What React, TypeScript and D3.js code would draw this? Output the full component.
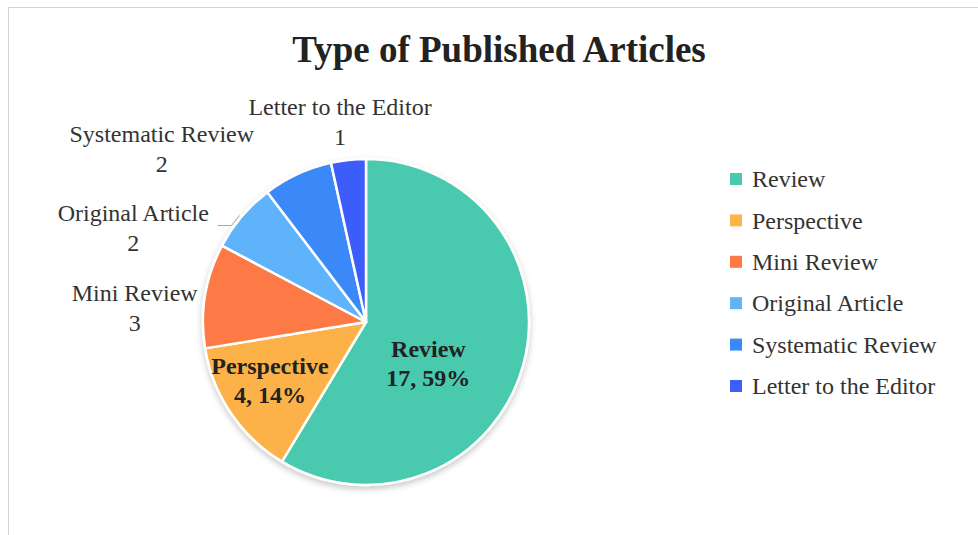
import React, { useRef, useEffect } from 'react';
import * as d3 from 'd3';

// article types and counts
const categories = ['Review', 'Perspective', 'Mini Review', 'Original Article', 'Systematic Review', 'Letter to the Editor'];
const counts = [17, 4, 3, 2, 2, 1];
const colors = ['#49c9ae', '#fdb24a', '#fd7a46', '#5fb3fb', '#3b89f9', '#3e5dfb'];

const W = 978;
const H = 535;
const FONT = '"Liberation Serif", "Times New Roman", serif';

// label nudges relative to centroid (Excel moves them around a bit)
const inside = { 0: [-46, 11], 1: [-3, -5] };
const outside = { 2: [-31, 19], 3: [-78, 37], 4: [-119, 11], 5: [-4, 2] };

const App = () => {
  const svgRef = useRef<SVGSVGElement>(null);

  useEffect(() => {
    if (!svgRef.current) return;
    const svg = d3.select(svgRef.current);
    svg.selectAll('*').remove();

    const cx = 366, cy = 322, R = 163;
    const total = d3.sum(counts);
    const rows = categories.map((name, i) => ({ name, value: counts[i], color: colors[i], i }));

    // frame
    svg.append('rect')
      .attr('x', 8.5).attr('y', 7.5)
      .attr('width', W).attr('height', H)
      .attr('fill', '#fff')
      .attr('stroke', '#d4d4d4');

    svg.append('text')
      .attr('x', 499).attr('y', 62)
      .attr('text-anchor', 'middle')
      .attr('font-family', FONT)
      .attr('font-weight', 'bold')
      .attr('font-size', 37)
      .attr('fill', '#222')
      .text('Type of Published Articles');

    const defs = svg.append('defs');
    const f = defs.append('filter').attr('id', 'shadow')
      .attr('x', '-20%').attr('y', '-20%').attr('width', '140%').attr('height', '140%');
    f.append('feDropShadow')
      .attr('dx', 0).attr('dy', 3)
      .attr('stdDeviation', 3)
      .attr('flood-color', '#000')
      .attr('flood-opacity', 0.22);

    const pie = d3.pie<any>().sort(null).value(d => d.value);
    const arcs = pie(rows);
    const arc = d3.arc<any>().innerRadius(0).outerRadius(R);
    const g = svg.append('g').attr('transform', `translate(${cx},${cy})`);

    g.append('g').attr('filter', 'url(#shadow)')
      .selectAll('path')
      .data(arcs)
      .enter()
      .append('path')
      .attr('d', arc)
      .attr('fill', d => d.data.color)
      .attr('stroke', '#fff')
      .attr('stroke-width', 2.5)
      .attr('stroke-linejoin', 'round');

    const inArc = d3.arc<any>().innerRadius(R * 0.69).outerRadius(R * 0.69);
    const outArc = d3.arc<any>().innerRadius(R + 40).outerRadius(R + 40);

    arcs.forEach(d => {
      const i = d.data.i;
      if (inside[i]) {
        const [x, y] = inArc.centroid(d);
        const lx = x + inside[i][0], ly = y + inside[i][1];
        const pct = Math.round((d.data.value / total) * 100);
        const t = g.append('text')
          .attr('text-anchor', 'middle')
          .attr('font-family', FONT)
          .attr('font-weight', 'bold')
          .attr('font-size', 24)
          .attr('fill', '#222');
        t.append('tspan').attr('x', lx).attr('y', ly - 6).text(d.data.name);
        t.append('tspan').attr('x', lx).attr('y', ly + 23).text(`${d.data.value}, ${pct}%`);
      } else {
        const [x, y] = outArc.centroid(d);
        const lx = x + outside[i][0], ly = y + outside[i][1];
        const t = g.append('text')
          .attr('text-anchor', 'middle')
          .attr('font-family', FONT)
          .attr('font-size', 24)
          .attr('fill', '#333');
        t.append('tspan').attr('x', lx).attr('y', ly - 7).text(d.data.name);
        t.append('tspan').attr('x', lx).attr('y', ly + 23).text(d.data.value);
      }
    });

    // leader line for Original Article
    const oa = arcs[3];
    const [ox, oy] = d3.arc<any>().innerRadius(R + 3).outerRadius(R + 3).centroid(oa);
    g.append('polyline')
      .attr('points', `${ox},${oy + 1} ${ox - 8},${oy + 11} ${ox - 22},${oy + 11}`)
      .attr('fill', 'none')
      .attr('stroke', '#a6a6a6')
      .attr('stroke-width', 1);

    // legend
    const ly = d3.scalePoint().domain(categories).range([179, 386]);
    const leg = svg.append('g')
      .selectAll('g')
      .data(rows)
      .enter()
      .append('g')
      .attr('transform', d => `translate(730,${ly(d.name)})`);
    leg.append('rect')
      .attr('x', 0).attr('y', -6)
      .attr('width', 12).attr('height', 12)
      .attr('fill', d => d.color);
    leg.append('text')
      .attr('x', 22).attr('y', 0).attr('dy', '0.34em')
      .attr('font-family', FONT)
      .attr('font-size', 24)
      .attr('fill', '#333')
      .text(d => d.name);
  }, []);

  return (
    <svg
      ref={svgRef}
      width={W}
      height={H}
      style={{ position: 'absolute', left: 0, top: 0, display: 'block', background: '#fff' }}
    />
  );
};

export default App;
